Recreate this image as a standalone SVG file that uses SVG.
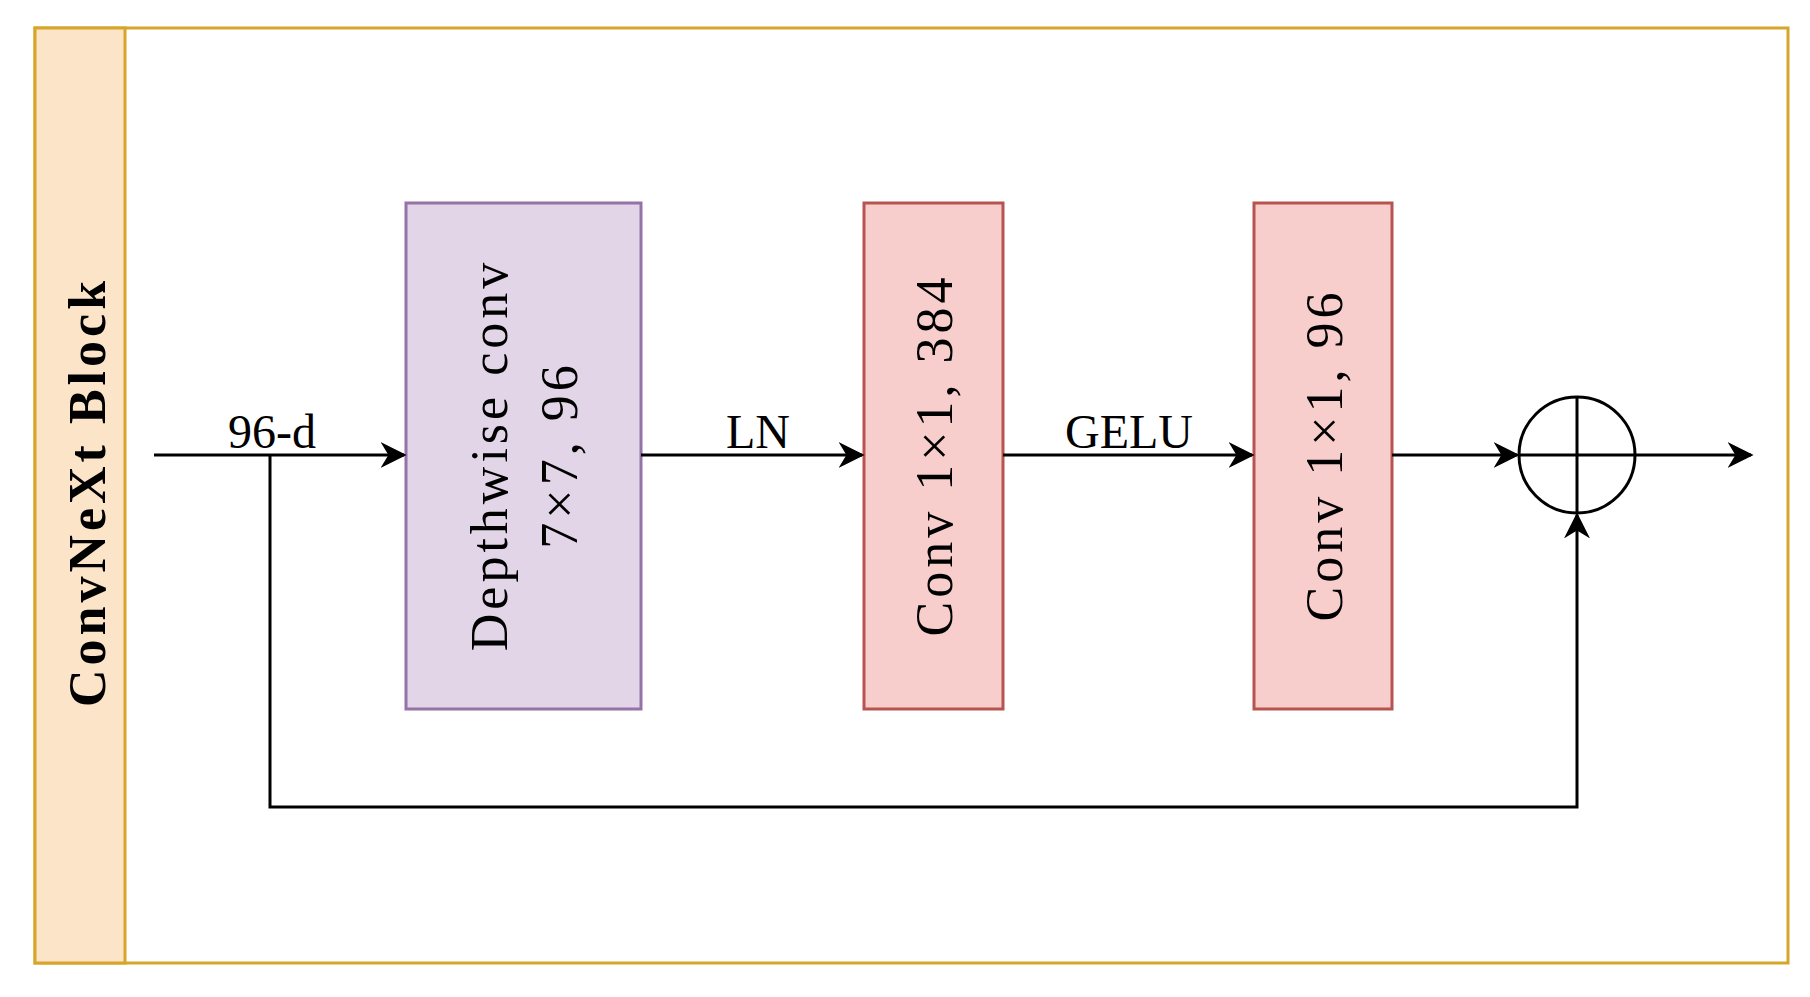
<svg xmlns="http://www.w3.org/2000/svg" width="1810" height="997" viewBox="0 0 1810 997">
<style>
text{font-family:"Liberation Serif",serif;fill:#000}
.l{font-size:52px;letter-spacing:4px}
.h{font-size:48px}
.c{stroke:#000;stroke-width:3;fill:none}
</style>
<defs>
<marker id="m" viewBox="0 0 10 10" refX="9" refY="5" markerWidth="26" markerHeight="26" orient="auto" markerUnits="userSpaceOnUse"><path d="M0,0 L10,5 L0,10 L3,5Z"/></marker></defs>
<rect width="1810" height="997" fill="#fff"/>
<g id="frame"><rect x="35" y="28" width="1753" height="935" fill="#fff" stroke="#d6a52a" stroke-width="3"/>
<rect x="35" y="28" width="90" height="935" fill="#fce4c8" stroke="#d6a52a" stroke-width="3"/>
<text transform="translate(105,492) rotate(-90)" text-anchor="middle" font-size="52" font-weight="bold" letter-spacing="4">ConvNeXt Block</text></g>
<g id="dw"><rect x="406" y="203" width="235" height="506" fill="#e1d5e7" stroke="#9673a6" stroke-width="3"/>
<text class="l" transform="translate(507,455) rotate(-90)" text-anchor="middle">Depthwise conv</text>
<text class="l" transform="translate(577,455) rotate(-90)" text-anchor="middle">7×7, 96</text></g>
<g id="conv1"><rect x="864" y="203" width="139" height="506" fill="#f8cecc" stroke="#b85450" stroke-width="3"/>
<text class="l" transform="translate(952,455) rotate(-90)" text-anchor="middle">Conv 1×1, 384</text></g>
<g id="conv2"><rect x="1254" y="203" width="138" height="506" fill="#f8cecc" stroke="#b85450" stroke-width="3"/>
<text class="l" transform="translate(1342,455) rotate(-90)" text-anchor="middle">Conv 1×1, 96</text></g>
<g id="add"><circle cx="1577" cy="455" r="58" fill="#fff" stroke="#000" stroke-width="3"/>
<path d="M1519,455H1635M1577,397V513" class="c"/></g>
<g id="connectors">
<path class="c" d="M154,455H404" marker-end="url(#m)"/>
<path class="c" d="M641,455H862" marker-end="url(#m)"/>
<path class="c" d="M1003,455H1252" marker-end="url(#m)"/>
<path class="c" d="M1392,455H1517" marker-end="url(#m)"/>
<path class="c" d="M1635,455H1751" marker-end="url(#m)"/>
<path class="c" d="M270,455V807H1577V515" marker-end="url(#m)"/>
<text class="h" x="272" y="448" text-anchor="middle">96-d</text>
<text class="h" x="758" y="448" text-anchor="middle">LN</text>
<text class="h" x="1129" y="448" text-anchor="middle">GELU</text>
</g>
</svg>
